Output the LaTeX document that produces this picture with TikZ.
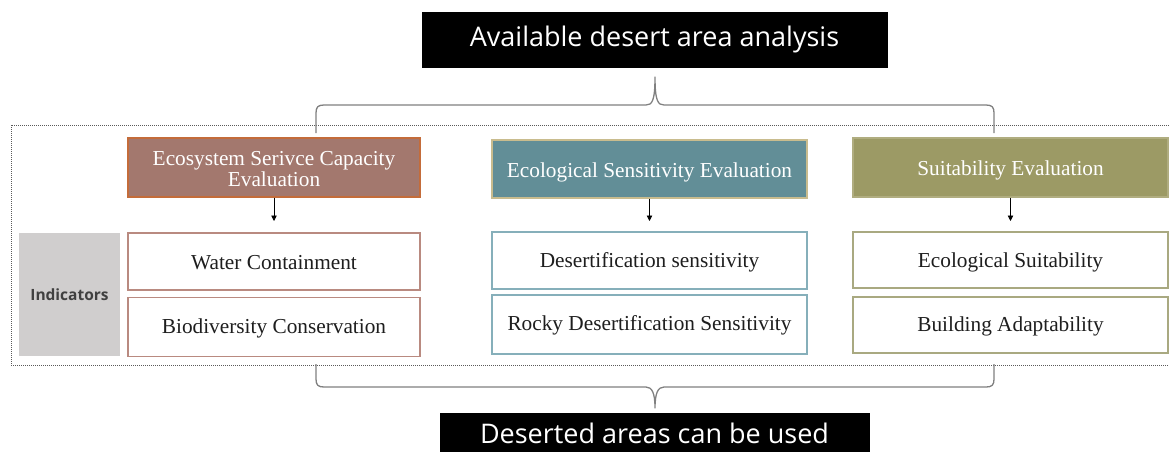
\documentclass[tikz,border=0pt]{standalone}
\usepackage{fontspec}
\setmainfont{Liberation Serif}
\newfontfamily\uifont{Open Sans}
\usetikzlibrary{arrows.meta}
\definecolor{brownfill}{HTML}{A3786E}
\definecolor{brownline}{HTML}{C46C3A}
\definecolor{tealfill}{HTML}{628E97}
\definecolor{tealline}{HTML}{C9BC8E}
\definecolor{olivefill}{HTML}{9C9A65}
\definecolor{oliveline}{HTML}{B0AD80}
\definecolor{brownind}{HTML}{B98A80}
\definecolor{tealind}{HTML}{86AFBA}
\definecolor{oliveind}{HTML}{A9A981}
\definecolor{greyind}{HTML}{D0CECE}
\definecolor{bracegrey}{HTML}{808080}
\newcommand{\lowertext}[2]{\raisebox{-#1}[\height][\depth]{#2}}
\tikzset{
  blackbox/.style={fill=black, draw=black, text=white, inner sep=0pt,
    font=\uifont\fontsize{27}{30}\selectfont},
  header/.style={inner sep=0pt, line width=1.3pt, text=white, align=center,
    font=\fontsize{21.3}{23.5}\selectfont},
  indbox/.style={inner sep=0pt, line width=1.1pt, fill=white, text={rgb,255:red,30;green,30;blue,30},
    font=\fontsize{21.3}{25}\selectfont},
  downarrow/.style={line width=0.8pt, -{Triangle[width=5.5pt,length=5.5pt]}},
  bracepath/.style={line width=1.3pt, draw=bracegrey, line join=round},
  groupframe/.style={draw={rgb,255:red,90;green,90;blue,90}, line width=1pt, dash pattern=on 1pt off 1pt}
}
\begin{document}
\begin{tikzpicture}[x=1pt,y=-1pt]
\useasboundingbox (0,0) rectangle (1169,451);

% frame
\draw[groupframe] (11,125) rectangle (1180,365);

% top and bottom
\node[blackbox, minimum width=465pt, minimum height=55pt] (top) at (654.5,39.5) {Available desert area analysis};
\node[blackbox, minimum width=429pt, minimum height=40pt] (bottom) at (654.5,433) {Deserted areas can be used};

% headers
\node[header, fill=brownfill, draw=brownline, minimum width=292pt, minimum height=59pt] (h1) at (274,167.5) {\lowertext{1.5pt}{\shortstack{Ecosystem Serivce Capacity\\[-0.5pt]Evaluation}}};
\node[header, fill=tealfill, draw=tealline, minimum width=315pt, minimum height=58pt] (h2) at (649.5,169) {\lowertext{3pt}{Ecological Sensitivity Evaluation}};
\node[header, fill=olivefill, draw=oliveline, minimum width=315pt, minimum height=59pt] (h3) at (1010.5,167.5) {\lowertext{3pt}{Suitability Evaluation}};

% arrow ends
\coordinate (a1) at (274,221);
\coordinate (a2) at (649.5,221);
\coordinate (a3) at (1010.5,221);
\draw[downarrow] (h1.south) -- (a1);
\draw[downarrow] (h2.south) -- (a2);
\draw[downarrow] (h3.south) -- (a3);

% indicators label
\node[fill=greyind, inner sep=0pt, minimum width=101pt, minimum height=123pt,
  text={rgb,255:red,64;green,64;blue,64}, font=\uifont\bfseries\fontsize{15.5}{18}\selectfont] (ind) at (69.5,294.5) {Indicators};

% indicator boxes
\node[indbox, draw=brownind, minimum width=292pt, minimum height=57pt] (i11) at (274,261.5) {\lowertext{1pt}{Water Containment}};
\node[indbox, draw=brownind, minimum width=292pt, minimum height=59pt] (i12) at (274,327) {\lowertext{1pt}{Biodiversity Conservation}};
\node[indbox, draw=tealind, minimum width=315pt, minimum height=57pt] (i21) at (649.5,260.5) {\lowertext{2pt}{Desertification sensitivity}};
\node[indbox, draw=tealind, minimum width=315pt, minimum height=59pt] (i22) at (649.5,324.5) {\lowertext{1pt}{Rocky Desertification Sensitivity}};
\node[indbox, draw=oliveind, minimum width=315pt, minimum height=56pt] (i31) at (1010.5,260) {\lowertext{2pt}{Ecological Suitability}};
\node[indbox, draw=oliveind, minimum width=315pt, minimum height=56pt] (i32) at (1010.5,325) {\lowertext{1pt}{Building Adaptability}};

% upper brace
\coordinate (ubl) at (316,133);
\coordinate (ubt) at (655,77);
\coordinate (ubr) at (994,133);
\draw[bracepath] (ubl) -- ++(0,-20) .. controls ++(0,-6) and ++(-6,0) .. ([xshift=8pt]ubl |- 0,105)
  -- ([xshift=-9pt]ubt |- 0,105) .. controls ++(6,0) and ++(0,24) .. (ubt)
  .. controls ++(0,24) and ++(-6,0) .. ([xshift=9pt]ubt |- 0,105)
  -- ([xshift=-8pt]ubr |- 0,105) .. controls ++(6,0) and ++(0,-6) .. ([yshift=20pt]ubr) -- (ubr);

% lower brace
\coordinate (lbl) at (316,364);
\coordinate (lbt) at (655,408);
\coordinate (lbr) at (994,364);
\draw[bracepath] (lbl) -- ++(0,15) .. controls ++(0,6) and ++(-6,0) .. ([xshift=8pt]lbl |- 0,387)
  -- ([xshift=-9pt]lbt |- 0,387) .. controls ++(6,0) and ++(0,-15) .. (lbt)
  .. controls ++(0,-15) and ++(-6,0) .. ([xshift=9pt]lbt |- 0,387)
  -- ([xshift=-8pt]lbr |- 0,387) .. controls ++(6,0) and ++(0,6) .. ([yshift=-15pt]lbr) -- (lbr);
\end{tikzpicture}
\end{document}
